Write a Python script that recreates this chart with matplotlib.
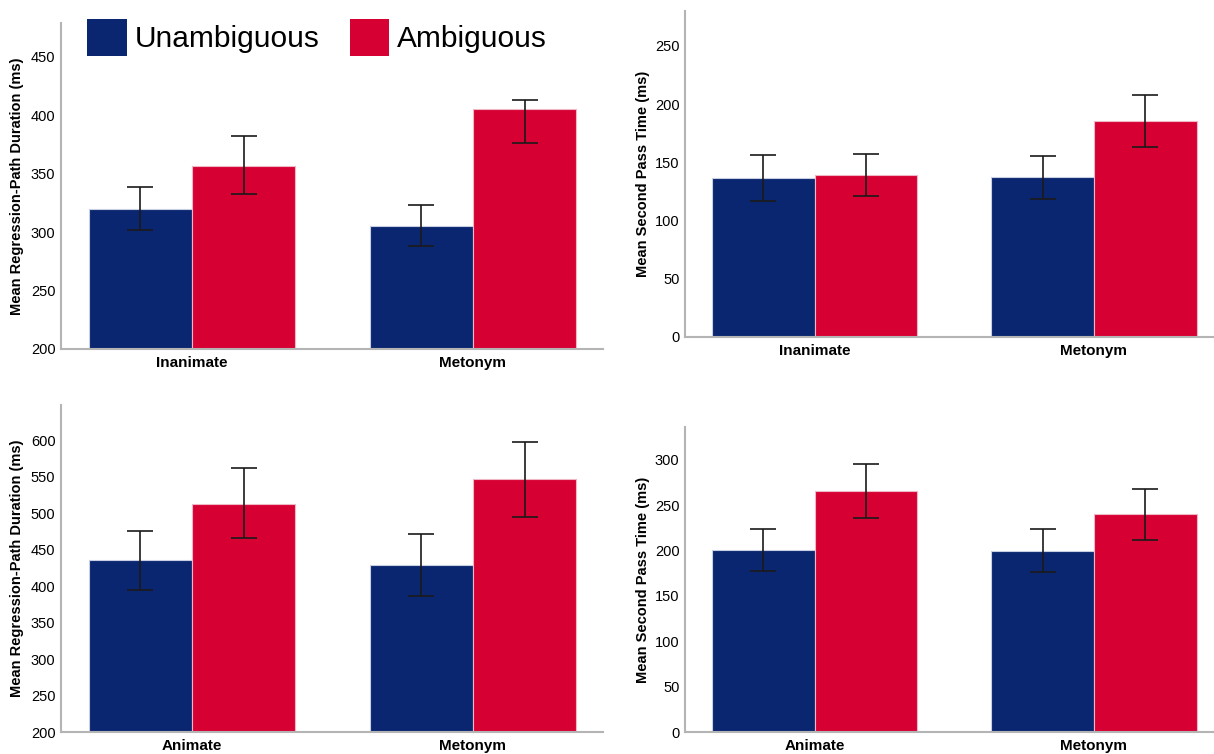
import matplotlib
matplotlib.use('Agg')
import matplotlib.pyplot as plt
from matplotlib.patches import Patch
import numpy as np

# ============================================================
# Data
# ============================================================
groups = ['Unambiguous', 'Ambiguous']

# top-left: regression-path duration, Inanimate vs Metonym
tl_cats = ['Inanimate', 'Metonym']
tl_unamb = [320, 305]
tl_unamb_lo = [301.5, 288]
tl_unamb_hi = [338.5, 323]
tl_amb = [357, 405]
tl_amb_lo = [332.5, 376.5]
tl_amb_hi = [382, 413.5]

# top-right: second pass time, Inanimate vs Metonym
tr_cats = ['Inanimate', 'Metonym']
tr_unamb = [136.5, 137]
tr_unamb_lo = [117, 118.5]
tr_unamb_hi = [156.5, 155.5]
tr_amb = [139.5, 185.5]
tr_amb_lo = [121.5, 163]
tr_amb_hi = [157.5, 208]

# bottom-left: regression-path duration, Animate vs Metonym
bl_cats = ['Animate', 'Metonym']
bl_unamb = [435, 429]
bl_unamb_lo = [395, 386]
bl_unamb_hi = [475.5, 471.5]
bl_amb = [513, 546]
bl_amb_lo = [465.5, 495]
bl_amb_hi = [561.5, 597]

# bottom-right: second pass time, Animate vs Metonym
br_cats = ['Animate', 'Metonym']
br_unamb = [200.5, 199.5]
br_unamb_lo = [177.5, 176]
br_unamb_hi = [224, 223.5]
br_amb = [265.5, 240]
br_amb_lo = [236, 212]
br_amb_hi = [295, 268]

# ============================================================
# Style
# ============================================================
plt.rcParams['font.family'] = ['Liberation Sans', 'DejaVu Sans']

BLUE = '#0B2670'
RED = '#D60033'
SPINE = '#B4B4B4'
W = 0.368

W_PX, H_PX = 1214, 754
fig = plt.figure(figsize=(W_PX / 100, H_PX / 100), dpi=100)


def px_axes(x0, y0, x1, y1):
    return fig.add_axes([x0 / W_PX, 1 - y1 / H_PX, (x1 - x0) / W_PX, (y1 - y0) / H_PX])


def draw_panel(ax, cats, unamb, u_lo, u_hi, amb, a_lo, a_hi, ylim, yticks, ylabel, xlim, label_x):
    x = np.arange(len(cats))
    unamb = np.array(unamb)
    amb = np.array(amb)
    ax.bar(x - W, unamb, width=W, align='edge', color=BLUE,
           edgecolor='#c9cfe3', linewidth=0.8, zorder=2)
    ax.bar(x, amb, width=W, align='edge', color=RED,
           edgecolor='#f0b8c6', linewidth=0.8, zorder=2)
    u_err = [unamb - np.array(u_lo), np.array(u_hi) - unamb]
    a_err = [amb - np.array(a_lo), np.array(a_hi) - amb]
    ax.errorbar(x - W / 2, unamb, yerr=u_err, fmt='none', ecolor='#1a1a1a',
                elinewidth=1.2, capsize=9.5, capthick=1.2, zorder=3)
    ax.errorbar(x + W / 2, amb, yerr=a_err, fmt='none', ecolor='#1a1a1a',
                elinewidth=1.2, capsize=9.5, capthick=1.2, zorder=3)

    ax.set_xlim(*xlim)
    ax.set_ylim(*ylim)
    ax.set_yticks(yticks)
    ax.set_xticks(x)
    ax.set_xticklabels(cats, fontsize=11, fontweight='bold')
    ax.tick_params(axis='y', length=0, pad=4, labelsize=10.5)
    ax.tick_params(axis='x', length=0, pad=5)
    ax.set_ylabel(ylabel, fontsize=10.5, fontweight='bold')
    ax.yaxis.set_label_coords(label_x, 0.5)
    for s in ['top', 'right']:
        ax.spines[s].set_visible(False)
    for s in ['left', 'bottom']:
        ax.spines[s].set_color(SPINE)
        ax.spines[s].set_linewidth(1.5)
    ax.set_facecolor('white')


ax_tl = px_axes(61, 23, 603, 349)
draw_panel(ax_tl, tl_cats, tl_unamb, tl_unamb_lo, tl_unamb_hi, tl_amb, tl_amb_lo, tl_amb_hi,
           (200, 479), np.arange(200, 451, 50), 'Mean Regression-Path Duration (ms)',
           (-0.466, 1.463), -0.068)

ax_tr = px_axes(685, 11, 1214, 337)
draw_panel(ax_tr, tr_cats, tr_unamb, tr_unamb_lo, tr_unamb_hi, tr_amb, tr_amb_lo, tr_amb_hi,
           (0, 280), np.arange(0, 251, 50), 'Mean Second Pass Time (ms)',
           (-0.464, 1.43), -0.066)

ax_bl = px_axes(61, 405, 603, 732)
draw_panel(ax_bl, bl_cats, bl_unamb, bl_unamb_lo, bl_unamb_hi, bl_amb, bl_amb_lo, bl_amb_hi,
           (200, 648), np.arange(200, 601, 50), 'Mean Regression-Path Duration (ms)',
           (-0.466, 1.463), -0.068)

ax_br = px_axes(685, 427, 1214, 732)
draw_panel(ax_br, br_cats, br_unamb, br_unamb_lo, br_unamb_hi, br_amb, br_amb_lo, br_amb_hi,
           (0, 336), np.arange(0, 301, 50), 'Mean Second Pass Time (ms)',
           (-0.464, 1.43), -0.066)

# Legend (square patches roughly 40x37 px)
handles = [Patch(facecolor=BLUE, edgecolor='none'), Patch(facecolor=RED, edgecolor='none')]
fig.legend(handles, groups, loc='upper left', bbox_to_anchor=(87 / W_PX, 1 - 19 / H_PX),
           ncol=2, frameon=False, fontsize=21.5, handlelength=1.33, handleheight=1.53,
           handletextpad=0.27, columnspacing=1.0, borderpad=0, borderaxespad=0)

plt.savefig('out.png', dpi=100, facecolor='white')
plt.close()
